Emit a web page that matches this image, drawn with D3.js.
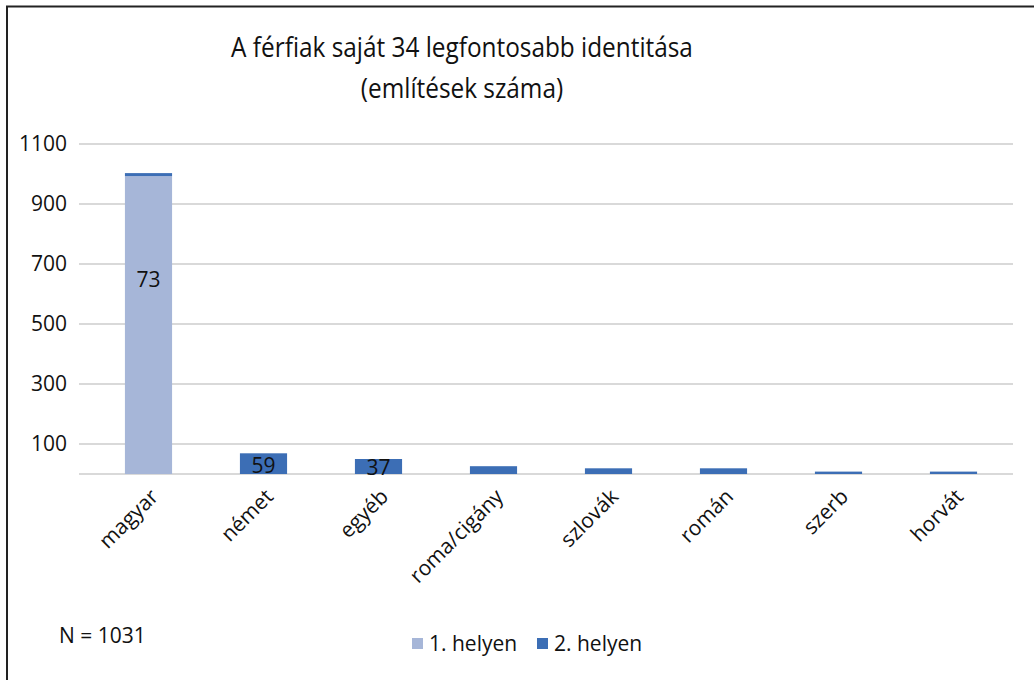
<!DOCTYPE html>
<html lang="hu">
<head>
<meta charset="utf-8">
<title>A férfiak saját 34 legfontosabb identitása</title>
<style>
  body { margin: 0; background: #fff; }
  text { font-family: "Open Sans", "Noto Sans", sans-serif; fill: #111; }
  .grid line { stroke: #d9d9d9; stroke-width: 2px; }
</style>
</head>
<body>
<script src="https://d3js.org/d3.v7.min.js"></script>
<script>
  const categories = ["magyar", "német", "egyéb", "roma/cigány", "szlovák", "román", "szerb", "horvát"];
  const first = [993, 0, 0, 0, 0, 0, 0, 0];      // 1. helyen
  const second = [10, 69, 50, 26, 19, 19, 8, 8]; // 2. helyen
  const seriesNames = ["1. helyen", "2. helyen"];
  const colors = ["#a6b6d8", "#3c6eb5"];
  const yTicks = [100, 300, 500, 700, 900, 1100];
  // data labels as printed on the chart, with the value height where they sit
  const labelCats = ["magyar", "német", "egyéb"];
  const labelTexts = ["73", "59", "37"];
  const labelAt = [650, 30, 23];

  const W = 1034, H = 680;
  const svg = d3.select("body").append("svg")
    .attr("width", W).attr("height", H);

  // frame (only top and left edges are visible)
  svg.append("path")
    .attr("d", "M7,680 V6.5 H1034")
    .attr("fill", "none").attr("stroke", "#222").attr("stroke-width", 2);

  const x = d3.scaleBand().domain(categories).range([91, 1011]).paddingInner(0.59).paddingOuter(0.295);
  const y = d3.scaleLinear().domain([0, 1100]).range([474, 144]);

  // gridlines
  svg.append("g").attr("class", "grid")
    .selectAll("line").data([0].concat(yTicks)).join("line")
    .attr("x1", 79).attr("x2", 1013)
    .attr("y1", d => y(d)).attr("y2", d => y(d));

  // y axis labels
  const yAxis = svg.append("g")
    .attr("transform", "translate(79,0)")
    .call(d3.axisLeft(y).tickValues(yTicks).tickFormat(d3.format("d")).tickSize(0).tickPadding(12));
  yAxis.select(".domain").remove();
  yAxis.attr("font-size", null).attr("font-family", null);
  yAxis.selectAll("text")
    .style("font-size", "21px").attr("fill", "#111");

  // stacked bars
  const rows = categories.map((c, i) => ({cat: c, s0: first[i], s1: second[i]}));
  const stack = d3.stack().keys(["s0", "s1"])(rows);
  svg.append("g").selectAll("g").data(stack).join("g")
    .attr("fill", (d, i) => colors[i])
    .selectAll("rect").data(d => d).join("rect")
    .attr("x", d => x(d.data.cat))
    .attr("width", x.bandwidth())
    .attr("y", d => y(d[1]))
    .attr("height", d => y(d[0]) - y(d[1]));

  // data labels
  svg.append("g").selectAll("text").data(labelCats).join("text")
    .attr("x", d => x(d) + x.bandwidth() / 2)
    .attr("y", (d, i) => y(labelAt[i]))
    .attr("dy", "0.36em")
    .attr("text-anchor", "middle")
    .style("font-size", "21px")
    .text((d, i) => labelTexts[i]);

  // x axis labels
  const xAxis = svg.append("g")
    .attr("transform", "translate(0,474)")
    .call(d3.axisBottom(x).tickSize(0).tickPadding(0));
  xAxis.select(".domain").remove();
  xAxis.attr("font-size", null).attr("font-family", null);
  xAxis.selectAll("text")
    .style("font-size", "21px").attr("fill", "#111")
    .attr("text-anchor", "end")
    .attr("dy", null).attr("y", 0)
    .attr("transform", "translate(11,24) rotate(-45)");

  // title (squeezed a bit to look like the narrower original face)
  const title = svg.append("text")
    .attr("text-anchor", "middle")
    .attr("transform", "translate(462,0) scale(0.87,1)")
    .style("font-size", "28px");
  title.append("tspan").attr("x", 0).attr("y", 57).text("A férfiak saját 34 legfontosabb identitása");
  title.append("tspan").attr("x", 0).attr("y", 98).text("(említések száma)");

  // N note
  svg.append("text").attr("x", 59).attr("y", 643)
    .style("font-size", "21px").text("N = 1031");

  // legend
  const legend = svg.append("g").attr("transform", "translate(412,651)");
  const items = legend.selectAll("g").data(seriesNames).join("g")
    .attr("transform", (d, i) => `translate(${i * 125},0)`);
  items.append("rect").attr("x", 0).attr("y", -13).attr("width", 11).attr("height", 11)
    .attr("fill", (d, i) => colors[i]);
  items.append("text").attr("x", 17).attr("y", 0)
    .style("font-size", "21px").text(d => d);
</script>
</body>
</html>
